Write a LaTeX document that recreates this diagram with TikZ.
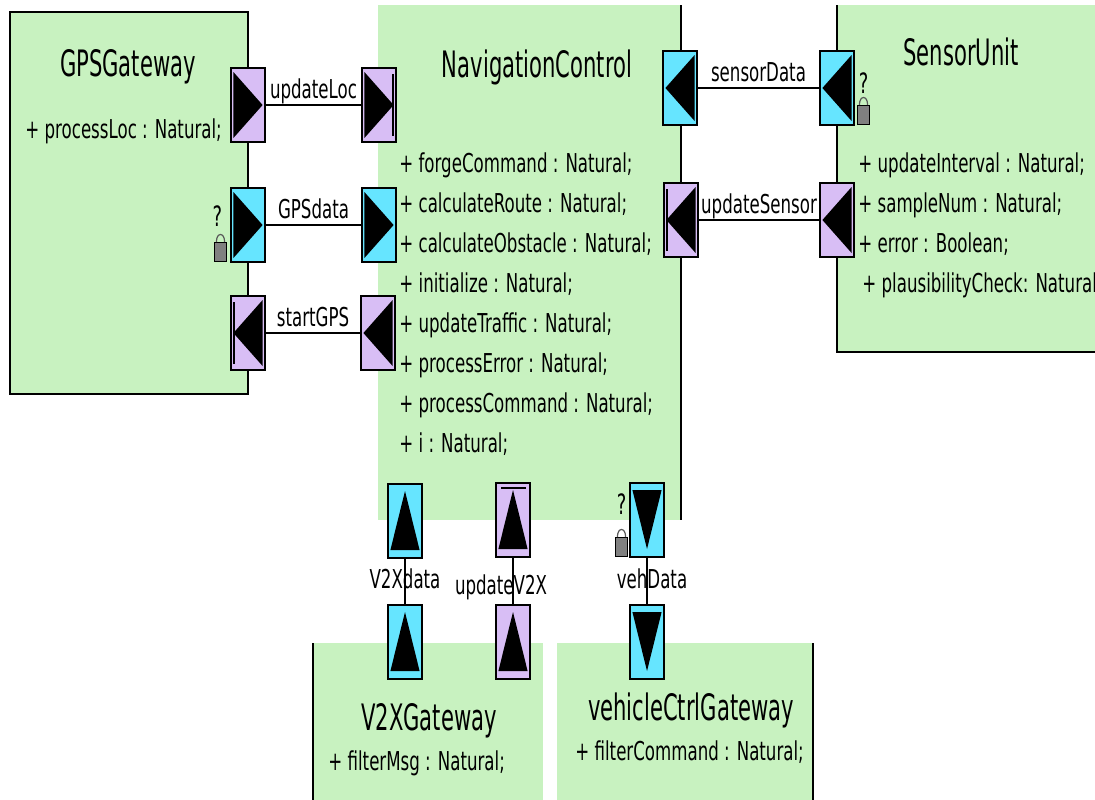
\documentclass[tikz,border=0pt]{standalone}
\usepackage{fontspec}
\setmainfont[FakeStretch=0.64]{DejaVu Sans}
\newfontfamily\titlefamily[FakeStretch=0.58]{DejaVu Sans}
\usetikzlibrary{positioning}

\definecolor{blockgreen}{RGB}{200,242,192}
\definecolor{portcyan}{RGB}{102,229,255}
\definecolor{portpurple}{RGB}{216,190,245}
\definecolor{lockgray}{RGB}{128,128,128}

\tikzset{
  block/.style={fill=blockgreen, inner sep=0pt, outer sep=0pt},
  blockedge/.style={line width=1pt},
  port/.style={draw, line width=0.9pt,
    minimum width=17pt, minimum height=37pt,
    inner sep=0pt, outer sep=0pt},
  dataport/.style={port, fill=portcyan},
  eventport/.style={port, fill=portpurple},
  conn/.style={line width=1pt},
  vconn/.style={line width=0.6pt},
  blocktitle/.style={anchor=base, inner sep=0pt,
    font=\titlefamily\fontsize{18.2}{22}\selectfont},
  attr/.style={anchor=base west, inner sep=0pt,
    font=\fontsize{13}{16}\selectfont},
  hlabel/.style={midway, anchor=base, yshift=3.5pt, inner sep=0pt,
    font=\fontsize{13}{16}\selectfont},
  vlabel/.style={midway, anchor=base, yshift=-3.5pt, inner sep=0pt,
    font=\fontsize{13}{16}\selectfont},
  bar/.style={line width=1pt},
  lockbox/.style={draw, line width=0.5pt, fill=lockgray,
    minimum width=6pt, minimum height=9.5pt, inner sep=0pt},
  shackle/.style={draw=lockgray!70!black, line width=0.6pt},
  qmark/.style={anchor=base, inner sep=0pt,
    font=\fontsize{14}{16}\selectfont},
}

\begin{document}
\begin{tikzpicture}[x=0.5pt, y=-0.5pt]

    \useasboundingbox (0,0) rectangle (1095,799);
    \clip (0,0) rectangle (1095,799);

    % components
    \node[block, minimum width=119pt, minimum height=191pt] (gps) at (129,203) {};
    \node[block, minimum width=151.5pt, minimum height=257.5pt] (nav) at (529.5,262.5) {};
    \node[block, minimum width=140pt, minimum height=173.5pt] (sensor) at (977,178.5) {};
    \node[block, minimum width=115pt, minimum height=88.5pt] (v2x) at (428,731.5) {};
    \node[block, minimum width=128pt, minimum height=88.5pt] (veh) at (685,731.5) {};

    \draw[blockedge] (gps.north west) rectangle (gps.south east);
    \draw[blockedge] (nav.north east) -- (nav.south east);
    \draw[blockedge] (sensor.north west) -- (sensor.south west) -- (sensor.south east);
    \draw[blockedge] (v2x.north west) -- (v2x.south west);
    \draw[blockedge] (veh.north east) -- (veh.south east);

    % names and attributes
    \node[blocktitle] (gpsName) at (128,76) {GPSGateway};
    \node[blocktitle] (navName) at (537,77) {NavigationControl};
    \node[blocktitle] (sensorName) at (961,65) {SensorUnit};
    \node[blocktitle] (v2xName) at (429,730) {V2XGateway};
    \node[blocktitle] (vehName) at (691,720) {vehicleCtrlGateway};

    \node[attr] (gpsAttr) at (25,138) {+ processLoc : Natural;};
    \foreach \a [count=\i from 0] in {+ forgeCommand : Natural;,
        + calculateRoute : Natural;, + calculateObstacle : Natural;,
        + initialize : Natural;, + updateTraffic : Natural;,
        + processError : Natural;, + processCommand : Natural;,
        + i : Natural;}
      \node[attr] (navAttr\i) at (399,172+40*\i) {\a};
    \foreach \a [count=\i from 0] in {+ updateInterval : Natural;,
        + sampleNum : Natural;, + error : Boolean;,
        \hspace{2pt}+ plausibilityCheck: Natural}
      \node[attr] (sensorAttr\i) at (858,172+40.3*\i) {\a};
    \node[attr] (v2xAttr) at (328,770) {+ filterMsg : Natural;};
    \node[attr] (vehAttr) at (575,760) {+ filterCommand : Natural;};

    % ports
    \node[eventport] (gUpd) at (248,105) {};
    \node[eventport] (nUpd) at (379,105) {};
    \node[dataport] (gDat) at (248,225) {};
    \node[dataport] (nDat) at (379,225) {};
    \node[eventport] (gStart) at (248,333) {};
    \node[eventport] (nStart) at (378,333) {};
    \node[dataport] (nSens) at (680,88) {};
    \node[dataport] (sSens) at (837,88) {};
    \node[eventport] (nUpS) at (681,220) {};
    \node[eventport] (sUpS) at (837,220) {};
    \node[dataport] (nV2X) at (405,521) {};
    \node[dataport] (vV2X) at (405,642) {};
    \node[eventport] (nUV2X) at (513,520) {};
    \node[eventport] (vUV2X) at (513,642) {};
    \node[dataport] (nVeh) at (647,520) {};
    \node[dataport] (cVeh) at (647,642) {};

    % triangles
    \foreach \p in {gUpd,nUpd,gDat,nDat}
      \fill ([xshift=1.2pt,yshift=-2pt]\p.north west) -- ([xshift=-1.2pt]\p.east)
        -- ([xshift=1.2pt,yshift=2pt]\p.south west) -- cycle;
    \foreach \p in {gStart,nStart,nSens,sSens,nUpS,sUpS}
      \fill ([xshift=-1.2pt,yshift=-2pt]\p.north east) -- ([xshift=1.2pt]\p.west)
        -- ([xshift=-1.2pt,yshift=2pt]\p.south east) -- cycle;
    \foreach \p in {nV2X,vV2X,nUV2X,vUV2X}
      \fill ([xshift=1.2pt,yshift=4pt]\p.south west) -- ([yshift=-3.5pt]\p.north)
        -- ([xshift=-1.2pt,yshift=4pt]\p.south east) -- cycle;
    \foreach \p in {nVeh,cVeh}
      \fill ([xshift=1.2pt,yshift=-3.5pt]\p.north west) -- ([yshift=4pt]\p.south)
        -- ([xshift=-1.2pt,yshift=-3.5pt]\p.north east) -- cycle;

    % bars
    \draw[bar] ([xshift=-1.6pt,yshift=-3pt]nUpd.north east) -- ([xshift=-1.6pt,yshift=3pt]nUpd.south east);
    \draw[bar] ([xshift=1.6pt,yshift=-3pt]gStart.north west) -- ([xshift=1.6pt,yshift=3pt]gStart.south west);
    \draw[bar] ([xshift=1.6pt,yshift=-3pt]nUpS.north west) -- ([xshift=1.6pt,yshift=3pt]nUpS.south west);
    \draw[line width=1.4pt] ([xshift=2.5pt,yshift=-2.5pt]nUV2X.north west) -- ([xshift=-2pt,yshift=-2.5pt]nUV2X.north east);

    % connections
    \draw[conn] (gUpd) -- node[hlabel] (lUpd) {updateLoc} (nUpd);
    \draw[conn] (gDat) -- node[hlabel] (lDat) {GPSdata} (nDat);
    \draw[conn] (gStart) -- node[hlabel] (lStart) {startGPS} (nStart);
    \draw[conn] (nSens) -- node[hlabel] (lSens) {sensorData} (sSens);
    \draw[conn] (nUpS) -- node[hlabel] (lUpS) {updateSensor} (sUpS);
    \draw[vconn] (nV2X) -- node[vlabel] (lV2X) {V2Xdata} (vV2X);
    \draw[vconn] (nUV2X) -- node[vlabel, xshift=-6pt, yshift=-3pt] (lUV2X) {updateV2X} (vUV2X);
    \draw[vconn] (nVeh) -- node[vlabel, xshift=2.5pt] (lVeh) {vehData} (cVeh);

    % locks
    \node[lockbox, anchor=south east] (lkGps) at ([xshift=-2pt]gDat.south west) {};
    \node[lockbox, anchor=south west] (lkSens) at ([xshift=1.5pt]sSens.south east) {};
    \node[lockbox, anchor=south east] (lkVeh) at ([xshift=-1pt]nVeh.south west) {};
    \foreach \l in {lkGps,lkSens,lkVeh}
      \draw[shackle] ([xshift=1.2pt]\l.north west)
        .. controls ([xshift=1.2pt,yshift=5pt]\l.north west) and ([xshift=-1.2pt,yshift=5pt]\l.north east)
        .. ([xshift=-1.2pt]\l.north east);
    \node[qmark] (qGps) at ([xshift=-1.5pt,yshift=8pt]lkGps.north) {?};
    \node[qmark] (qSens) at ([yshift=6pt]lkSens.north) {?};
    \node[qmark] (qVeh) at ([yshift=11.5pt]lkVeh.north) {?};

\end{tikzpicture}
\end{document}
